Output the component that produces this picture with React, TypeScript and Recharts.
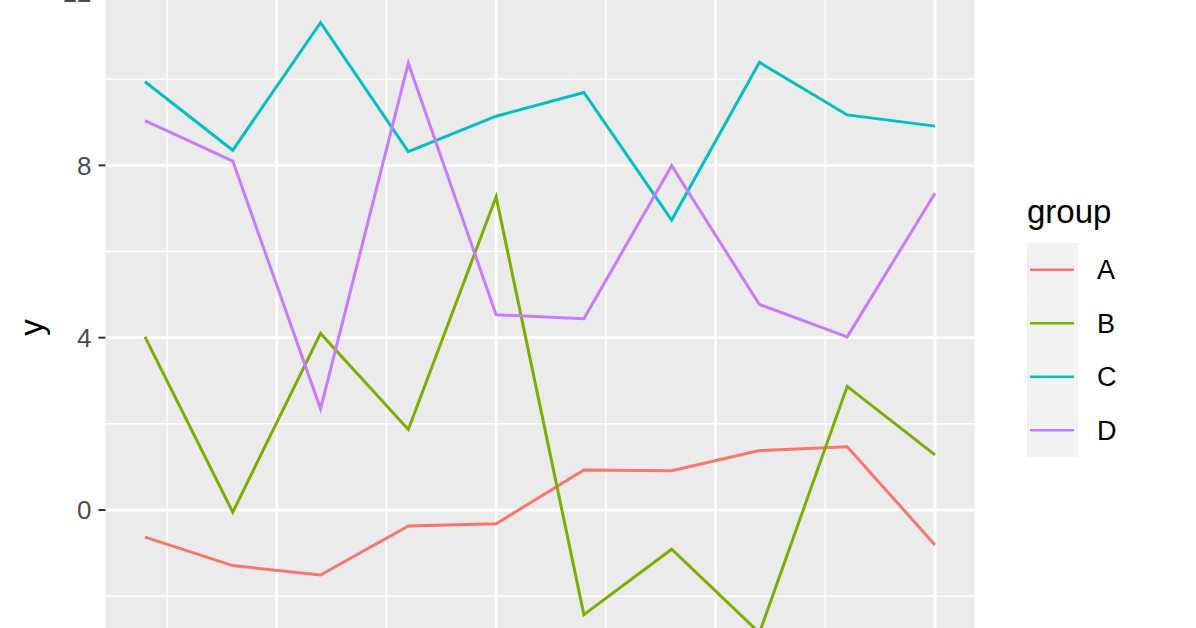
import { LineChart, Line, XAxis, YAxis, CartesianGrid, Legend, ReferenceLine } from "recharts";

// group values, x = 1..10
const xs = [1, 2, 3, 4, 5, 6, 7, 8, 9, 10];
const seriesA = [-0.63, -1.29, -1.51, -0.37, -0.32, 0.93, 0.91, 1.38, 1.47, -0.81];
const seriesB = [4.02, -0.05, 4.1, 1.87, 7.27, -2.43, -0.91, -2.85, 2.87, 1.28];
const seriesC = [9.94, 8.35, 11.31, 8.32, 9.14, 9.69, 6.73, 10.39, 9.17, 8.91];
const seriesD = [9.04, 8.1, 2.35, 10.37, 4.53, 4.44, 7.99, 4.77, 4.02, 7.35];

const groups = ["A", "B", "C", "D"];
const colors = ["#F8766D", "#7CAE00", "#00BFC4", "#C77CFF"];

const yTicks = [0, 4, 8, 12];
const yMinor = [-2, 2, 6, 10];
const xMajor = [2.5, 5, 7.5, 10];
const xMinor = [1.25, 3.75, 6.25, 8.75];

const data = xs.map((x, i) => ({
  x,
  A: seriesA[i],
  B: seriesB[i],
  C: seriesC[i],
  D: seriesD[i],
}));

const FONT = "'Liberation Sans', Arial, Helvetica, sans-serif";

function GroupLegend({ payload }: any) {
  const items = (payload ?? []).filter((e: any) => groups.includes(e.value));
  return (
    <svg width={170} height={280} style={{ display: "block" }}>
      <text x={7} y={33} fontSize={33} fontFamily={FONT} fill="#000">
        group
      </text>
      {items.map((e: any, i: number) => {
        const top = 53 + i * 53.5;
        const cy = top + 26.75;
        return (
          <g key={e.value}>
            <rect x={7} y={top} width={51} height={53.5} fill="#F2F2F2" />
            <line x1={10} x2={54} y1={cy} y2={cy} stroke={e.color} strokeWidth={2.6} />
            <text
              x={77}
              y={cy}
              dy="0.36em"
              fontSize={27}
              fontFamily={FONT}
              fill="#000"
            >
              {e.value}
            </text>
          </g>
        );
      })}
    </svg>
  );
}

function AxisTitle({ viewBox }: any) {
  const cy = viewBox.y + viewBox.height / 2;
  return (
    <text
      x={43}
      y={cy}
      transform={`rotate(-90 43 ${cy})`}
      textAnchor="middle"
      fontSize={33}
      fontFamily={FONT}
      fill="#000"
    >
      y
    </text>
  );
}

export default function App() {
  return (
    <div
      style={{
        position: "fixed",
        left: 0,
        top: 0,
        width: 1196,
        height: 628,
        overflow: "hidden",
        background: "#fff",
      }}
    >
      <div style={{ position: "absolute", left: 0, top: -40 }}>
        <LineChart
          width={1196}
          height={760}
          data={data}
          margin={{ top: 31.7, right: 221.5, bottom: 56.6, left: 0 }}
        >
          <CartesianGrid fill="#EBEBEB" horizontal={false} vertical={false} />
          {yMinor.map((v) => (
            <ReferenceLine key={`ym${v}`} y={v} stroke="#FFFFFF" strokeWidth={1.5} zIndex={-50} />
          ))}
          {xMinor.map((v) => (
            <ReferenceLine key={`xm${v}`} x={v} stroke="#FFFFFF" strokeWidth={1.5} zIndex={-50} />
          ))}
          {yTicks.map((v) => (
            <ReferenceLine key={`yM${v}`} y={v} stroke="#FFFFFF" strokeWidth={2.8} zIndex={-50} />
          ))}
          {xMajor.map((v) => (
            <ReferenceLine key={`xM${v}`} x={v} stroke="#FFFFFF" strokeWidth={2.8} zIndex={-50} />
          ))}
          <XAxis
            dataKey="x"
            type="number"
            domain={[0.55, 10.45]}
            allowDataOverflow
            ticks={xMajor}
            hide
          />
          <YAxis
            type="number"
            domain={[-3.56, 12.03]}
            allowDataOverflow
            ticks={yTicks}
            width={105.5}
            axisLine={false}
            tickSize={7}
            tickMargin={7}
            tickLine={{ stroke: "#333333", strokeWidth: 2 }}
            tick={{ fill: "#4D4D4D", fontSize: 26, fontFamily: FONT }}
            label={{ content: AxisTitle }}
          />
          <Legend
            layout="vertical"
            align="center"
            verticalAlign="middle"
            wrapperStyle={{ left: 1020, top: 230, width: 170, height: 280 }}
            content={GroupLegend}
          />
          {groups.map((g, i) => (
            <Line
              key={g}
              dataKey={g}
              name={g}
              type="linear"
              stroke={colors[i]}
              strokeWidth={3}
              dot={false}
              activeDot={false}
              isAnimationActive={false}
            />
          ))}
        </LineChart>
      </div>
    </div>
  );
}
